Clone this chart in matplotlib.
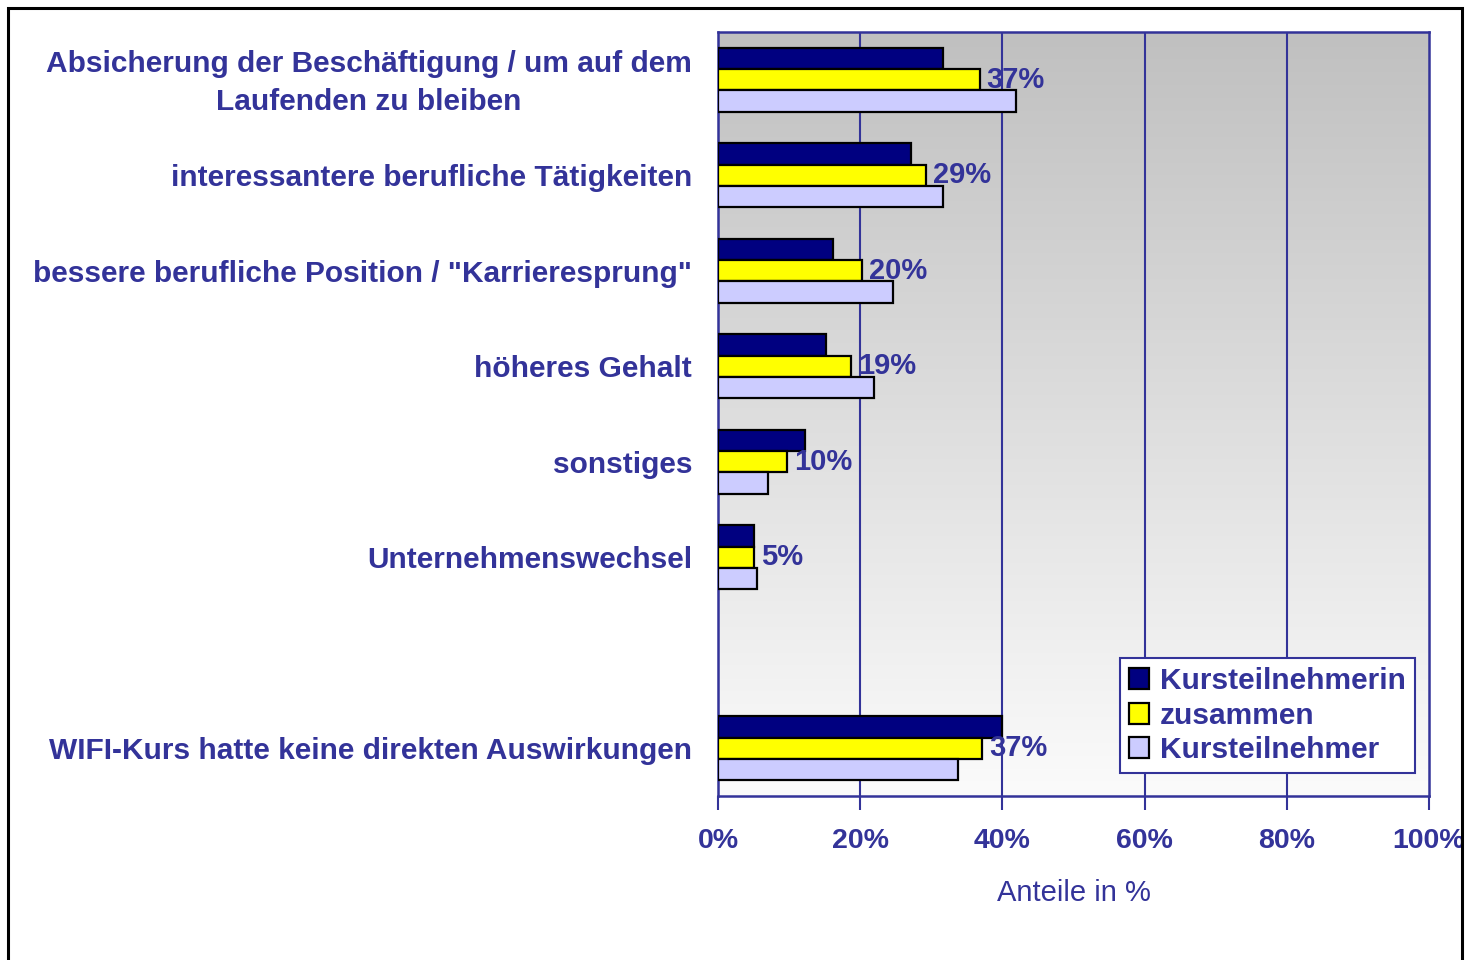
#!/usr/bin/env python3
"""Horizontal grouped bars: Auswirkungen des WIFI-Kurses nach Geschlecht."""

import matplotlib.pyplot as plt
import numpy as np
from matplotlib.patches import Rectangle

categories = [
    "Absicherung der Beschäftigung / um auf dem\nLaufenden zu bleiben",
    "interessantere berufliche Tätigkeiten",
    'bessere berufliche Position / "Karrieresprung"',
    "höheres Gehalt",
    "sonstiges",
    "Unternehmenswechsel",
    "WIFI-Kurs hatte keine direkten Auswirkungen",
]
# slot index of each category (slot 6 is left empty in the original)
slots = [0, 1, 2, 3, 4, 5, 7]

kursteilnehmerin = [31.7, 27.1, 16.2, 15.2, 12.3, 5.1, 40.0]
zusammen = [36.8, 29.3, 20.3, 18.7, 9.7, 5.0, 37.1]
kursteilnehmer = [41.9, 31.6, 24.6, 21.9, 7.1, 5.5, 33.8]
zusammen_labels = ["37%", "29%", "20%", "19%", "10%", "5%", "37%"]

series_names = ["Kursteilnehmerin", "zusammen", "Kursteilnehmer"]
x_ticks = [0, 20, 40, 60, 80, 100]

TEXT = "#333399"
COLORS = ["#000080", "#FFFF00", "#CCCCFF"]

plt.rcParams["font.family"] = ["Liberation Sans", "DejaVu Sans"]

fig = plt.figure(figsize=(14.65, 9.6), dpi=100)
fig.patch.set_facecolor("white")
ax = fig.add_axes([718 / 1465, 1 - 796 / 960, 711 / 1465, 764 / 960])

# grey-to-white gradient background
grad = np.linspace(0, 1, 256).reshape(-1, 1)
ax.imshow(
    grad,
    extent=[0, 1, 0, 1],
    transform=ax.transAxes,
    aspect="auto",
    cmap=plt.matplotlib.colors.LinearSegmentedColormap.from_list(
        "bg", ["#fbfbfb", "#c0c0c0"]
    ),
    origin="lower",
    zorder=0,
)

y = np.array(slots, dtype=float)
h = 0.222
for offset, vals, color, name in zip(
    (-h, 0.0, h), (kursteilnehmerin, zusammen, kursteilnehmer), COLORS, series_names
):
    ax.barh(
        y + offset,
        vals,
        height=h,
        color=color,
        edgecolor="black",
        linewidth=1.6,
        label=name,
        zorder=3,
    )

for yi, v, lab in zip(y, zusammen, zusammen_labels):
    ax.text(
        v + 1.0,
        yi,
        lab,
        color=TEXT,
        fontsize=21,
        fontweight="bold",
        ha="left",
        va="center",
        zorder=4,
    )

ax.set_xlim(0, 100)
ax.set_ylim(7.5, -0.5)
ax.set_xticks(x_ticks)
ax.set_xticklabels([f"{t}%" for t in x_ticks], fontsize=20.5, fontweight="bold", color=TEXT)

# category labels drawn as text so the two-line one can be centred like the original
ax.set_yticks(y)
ax.set_yticklabels([])
label_x = -26 / 711
for yi, cat in zip(y, categories):
    two_lines = "\n" in cat
    ax.text(
        label_x,
        yi + (0.03 if two_lines else 0.0),
        cat,
        transform=ax.get_yaxis_transform(),
        ha="right",
        va="center" if two_lines else "center_baseline",
        multialignment="center",
        linespacing=1.45,
        fontsize=21.5,
        fontweight="bold",
        color=TEXT,
    )

ax.tick_params(axis="y", length=0)
ax.tick_params(axis="x", length=10, width=1.5, color=TEXT, pad=13)

for x in x_ticks[1:-1]:
    ax.axvline(x, color=TEXT, linewidth=1.5, zorder=1)
for sp in ax.spines.values():
    sp.set_color(TEXT)
    sp.set_linewidth(1.8)

ax.set_xlabel("Anteile in %", fontsize=21, color=TEXT, labelpad=18)

leg = ax.legend(
    loc="lower right",
    bbox_to_anchor=(0.98, 0.03),
    fontsize=21.5,
    frameon=True,
    fancybox=False,
    edgecolor=TEXT,
    facecolor="white",
    framealpha=1,
    handlelength=0.7,
    handleheight=0.7,
    handletextpad=0.35,
    labelspacing=0.22,
    borderpad=0.3,
    borderaxespad=0,
)
leg.get_frame().set_linewidth(1.5)
for t in leg.get_texts():
    t.set_color(TEXT)
    t.set_fontweight("bold")

# outer frame of the chart area
fig.add_artist(
    Rectangle(
        (8 / 1465, -0.05),
        (1462 - 8) / 1465,
        1.05 - 8 / 960,
        transform=fig.transFigure,
        fill=False,
        edgecolor="black",
        linewidth=2.2,
    )
)

fig.savefig("out.png", dpi=100)
plt.close(fig)
